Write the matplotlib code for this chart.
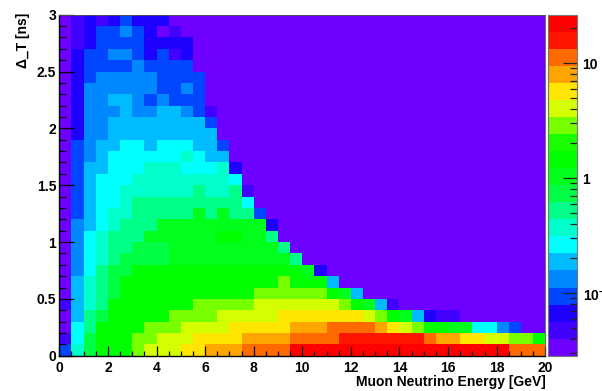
import numpy as np
import matplotlib
matplotlib.use("Agg")
import matplotlib.pyplot as plt
from matplotlib.colors import ListedColormap, LogNorm
from matplotlib.ticker import FixedLocator, MultipleLocator, NullFormatter

# ---------------- data ----------------
x_min, x_max, n_xbins = 0.0, 20.0, 40      # Muon neutrino energy [GeV]
y_min, y_max, n_ybins = 0.0, 3.0, 30       # Delta_T [ns]

log_zmin = -1.545
log_zmax = 1.42

palette = ['#6E00FF', '#4200FF', '#1E00FF', '#0046FF', '#0088FF',
           '#00BBFF', '#00FFFF', '#00FFCC', '#00FF88', '#00FF44',
           '#00FF1A', '#00FF00', '#1AFF00', '#78FF00', '#D4FF00',
           '#FFE600', '#FFA500', '#FF6A00', '#FF1500', '#FF0000']

# colour band read for each cell; top row (2.9-3.0 ns) first,
# '.' = empty bin, '0'-'9','a'-'j' = band 0..19 of the palette
level_rows = [
    "012123222" + "." * 31,
    "0123343201" + "." * 30,
    "01233332222" + "." * 29,
    "02334432312" + "." * 29,
    "02333343333" + "." * 29,
    "023444443333" + "." * 28,
    "024444443343" + "." * 28,
    "024455434333" + "." * 28,
    "0244454455431" + "." * 27,
    "0244555555553" + "." * 27,
    "0244555555555" + "." * 27,
    "03455665666553" + "." * 26,
    "03456666667655" + "." * 26,
    "035566677766672" + "." * 25,
    "035666777777776" + "." * 25,
    "0356677777787781" + "." * 24,
    "0356678888888886" + "." * 24,
    "03567788888a8a883" + "." * 23,
    "04567888aaaaaaaaa2" + "." * 22,
    "0467888aaaaaabbaa8" + "." * 22,
    "046788999aaaaaaaaa8" + "." * 21,
    "046789999aaaaaaaaaa8" + "." * 20,
    "046899" + "b" * 14 + "a2" + "." * 18,
    "05789" + "b" * 13 + "d" + "bbb" + "5" + "." * 17,
    "05789" + "b" * 11 + "d" * 6 + "ba5" + "." * 15,
    "1578" + "b" * 7 + "d" * 5 + "e" * 7 + "dba51" + "." * 12,
    "0589" + "b" * 5 + "d" * 4 + "e" * 5 + "f" * 7 + "edba5211" + "." * 7,
    "068" + "b" * 4 + "d" * 3 + "e" * 4 + "f" * 5 + "ggg" + "hhhh" + "gfed" + "bbaa6643..",
    "169" + "bbb" + "dd" + "eee" + "ffff" + "gggg" + "hhhh" + "iiiiiii" + "hggffeeddb",
    "379" + "bbb" + "d" + "eee" + "ff" + "ggg" + "hhhh" + "j" * 18 + "hhh",
]

x_ticks = [0, 2, 4, 6, 8, 10, 12, 14, 16, 18, 20]
y_ticks = [0, 0.5, 1, 1.5, 2, 2.5, 3]
y_ticklabels = ["0", "0.5", "1", "1.5", "2", "2.5", "3"]
z_ticks = [0.1, 1, 10]
z_ticklabels = [r"$\mathbf{10^{-1}}$", "1", "10"]
x_title = "Muon Neutrino Energy [GeV]"
y_title = "\u0394_T [ns]"

# ---------------- build histogram ----------------
n_levels = len(palette)
band = (log_zmax - log_zmin) / n_levels
digits = "0123456789abcdefghij"
z = np.full((n_ybins, n_xbins), np.nan)
for r, row in enumerate(level_rows):
    iy = n_ybins - 1 - r
    for ix, ch in enumerate(row):
        if ch != '.':
            lev = digits.index(ch)
            z[iy, ix] = 10 ** (log_zmin + (lev + 0.5) * band)
zm = np.ma.masked_invalid(z)

xe = np.linspace(x_min, x_max, n_xbins + 1)
ye = np.linspace(y_min, y_max, n_ybins + 1)

plt.rcParams['font.family'] = ['Liberation Sans', 'DejaVu Sans']
plt.rcParams['font.weight'] = 'bold'
plt.rcParams['mathtext.fontset'] = 'custom'
plt.rcParams['mathtext.bf'] = 'Liberation Sans:bold'
plt.rcParams['mathtext.rm'] = 'Liberation Sans:bold'

W, H = 602, 391
fig = plt.figure(figsize=(W / 100, H / 100), dpi=100)
fig.patch.set_facecolor('white')

L, R, T, B = 59.3, 545.3, 14.7, 355.7
ax = fig.add_axes([L / W, 1 - B / H, (R - L) / W, (B - T) / H])
cmap = ListedColormap(palette)
norm = LogNorm(vmin=10 ** log_zmin, vmax=10 ** log_zmax)
ax.set_facecolor(palette[0])
mesh = ax.pcolormesh(xe, ye, zm, cmap=cmap, norm=norm, shading='flat')
ax.set_xlim(x_min, x_max)
ax.set_ylim(y_min, y_max)

fs = 10
ax.set_xticks(x_ticks)
ax.set_xticklabels([str(t) for t in x_ticks], fontsize=fs, fontweight='bold')
ax.set_yticks(y_ticks)
ax.set_yticklabels(y_ticklabels, fontsize=fs, fontweight='bold')
ax.xaxis.set_minor_locator(MultipleLocator(0.5))
ax.yaxis.set_minor_locator(MultipleLocator(0.1))
ax.tick_params(axis='x', which='major', direction='in', length=7.2, width=0.9,
               pad=3.5, top=False, color='black')
ax.tick_params(axis='x', which='minor', direction='in', length=3.6, width=0.9,
               top=False, color='black')
ax.tick_params(axis='y', which='major', direction='in', length=10.5, width=0.9,
               pad=2.2, right=False, color='black')
ax.tick_params(axis='y', which='minor', direction='in', length=5.2, width=0.9,
               right=False, color='black')
for s in ['left', 'bottom']:
    ax.spines[s].set_color('black')
    ax.spines[s].set_linewidth(1.0)
for s in ['top', 'right']:
    ax.spines[s].set_color('#555555')
    ax.spines[s].set_linewidth(0.6)

fig.text(R / W, 1 - 382 / H, x_title, ha='right', va='center',
         fontsize=fs, fontweight='bold')
fig.text(23 / W, 1 - 13.0 / H, y_title, rotation=90, ha='center', va='top',
         fontsize=fs, fontweight='bold', family=['Liberation Sans', 'DejaVu Sans'])

# colour bar (palette axis)
cax = fig.add_axes([548 / W, 1 - B / H, 29 / W, (B - T) / H])
cb = fig.colorbar(mesh, cax=cax)
cb.outline.set_edgecolor('#777777')
cb.outline.set_linewidth(0.8)
cax.yaxis.set_major_locator(FixedLocator(z_ticks))
cax.yaxis.set_ticklabels(z_ticklabels)
minors = [m * 10.0 ** e for e in (-2, -1, 0, 1) for m in range(2, 10)]
minors = [v for v in minors if 10 ** log_zmin <= v <= 10 ** log_zmax]
cax.yaxis.set_minor_locator(FixedLocator(minors))
cax.yaxis.set_minor_formatter(NullFormatter())
cax.tick_params(which='major', direction='in', length=10, width=0.9, pad=4,
                labelsize=fs, color='#222222')
cax.tick_params(which='minor', direction='in', length=5, width=0.9, color='#222222')
for lab in cax.get_yticklabels():
    lab.set_fontweight('bold')

fig.savefig("out.png", dpi=100)
